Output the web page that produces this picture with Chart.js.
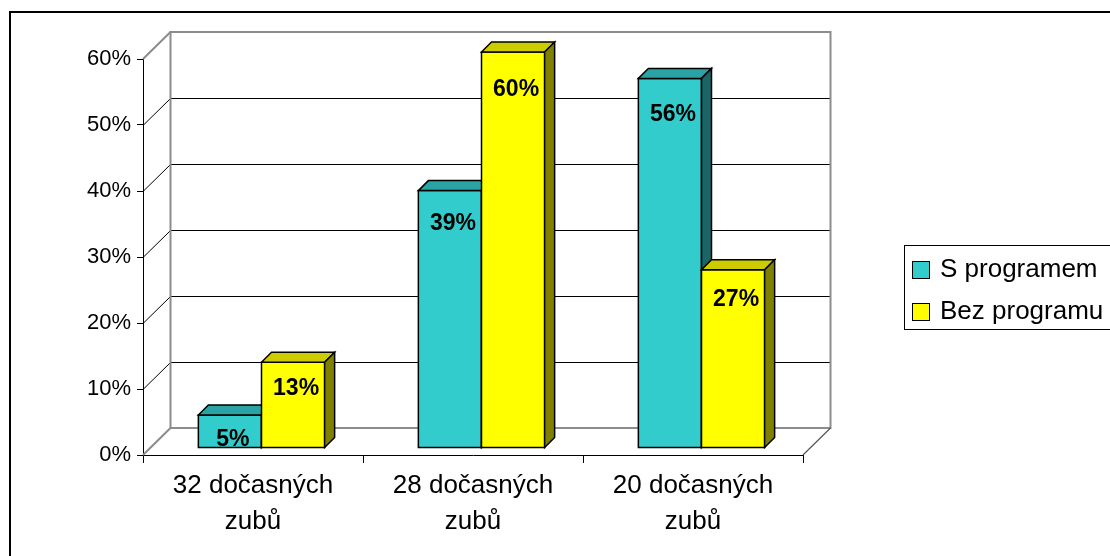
<!DOCTYPE html>
<html>
<head>
<meta charset="utf-8">
<script src="https://cdn.jsdelivr.net/npm/chart.js@4/dist/chart.umd.min.js"></script>
<style>
  body { margin: 0; background: #fff; }
  canvas { display: block; }
</style>
</head>
<body>
<canvas id="chart" width="1110" height="556"></canvas>
<script>
const categories = [["32 dočasných", "zubů"], ["28 dočasných", "zubů"], ["20 dočasných", "zubů"]];
const seriesNames = ["S programem", "Bez programu"];
const sProgramem = [5, 39, 56];
const bezProgramu = [13, 60, 27];
const yTicks = [0, 10, 20, 30, 40, 50, 60];

const FONT = "'Liberation Sans', Arial, sans-serif";

// front / top / side shades for each series
const palette = [
  { front: "#33CCCC", top: "#29A3A3", side: "#1A6666" },
  { front: "#FFFF00", top: "#CCCC00", side: "#808000" }
];

const WALL = { dx: 27.5, dy: -27 };     // depth of the plot box
const BAR_SHIFT = { dx: 8.5, dy: -7 };  // bars stand a bit inside the floor
const BAR_DEPTH = { dx: 10, dy: -10 };

function poly(ctx, pts, fill) {
  ctx.beginPath();
  ctx.moveTo(pts[0][0], pts[0][1]);
  for (let i = 1; i < pts.length; i++) ctx.lineTo(pts[i][0], pts[i][1]);
  ctx.closePath();
  ctx.fillStyle = fill;
  ctx.fill();
  ctx.stroke();
}

// walls, gridlines and the 3d boxes; the flat default bars are skipped
const box3d = {
  id: "box3d",
  beforeDatasetsDraw(chart) {
    const { ctx, chartArea: a, scales: { y } } = chart;
    const { dx, dy } = WALL;
    const top = y.getPixelForValue(yTicks[yTicks.length - 1]);
    const bottom = y.getPixelForValue(0);

    ctx.save();
    ctx.lineWidth = 1;
    ctx.strokeStyle = "#000";
    yTicks.slice(1, -1).forEach(v => {
      const py = Math.round(y.getPixelForValue(v)) + 0.5;
      ctx.beginPath();
      ctx.moveTo(a.left, py);
      ctx.lineTo(a.left + dx, py + dy);
      ctx.lineTo(a.right + dx, py + dy);
      ctx.stroke();
    });

    ctx.strokeStyle = "#8c8c8c";
    ctx.lineWidth = 2;
    ctx.strokeRect(a.left + dx, top + dy, a.right - a.left, bottom - top);
    ctx.beginPath();
    ctx.moveTo(a.left, top); ctx.lineTo(a.left + dx, top + dy);
    ctx.moveTo(a.left, bottom); ctx.lineTo(a.left + dx, bottom + dy);
    ctx.stroke();
    ctx.strokeStyle = "#555";
    ctx.lineWidth = 1.2;
    ctx.beginPath();
    ctx.moveTo(a.right, bottom); ctx.lineTo(a.right + dx, bottom + dy);
    ctx.stroke();

    // boxes, category by category so the right-hand bar covers its neighbour's side
    ctx.strokeStyle = "#000";
    ctx.lineWidth = 1.5;
    ctx.lineJoin = "miter";
    const labels = [];
    chart.data.labels.forEach((_, i) => {
      chart.data.datasets.forEach((ds, d) => {
        const el = chart.getDatasetMeta(d).data[i];
        const { x, y: vy, base, width } = el.getProps(["x", "y", "base", "width"], true);
        const l = x - width / 2 + BAR_SHIFT.dx, r = x + width / 2 + BAR_SHIFT.dx;
        const t = vy + BAR_SHIFT.dy, b = base + BAR_SHIFT.dy;
        const p = palette[d];
        const ox = BAR_DEPTH.dx, oy = BAR_DEPTH.dy;
        poly(ctx, [[l, t], [r, t], [r, b], [l, b]], p.front);
        poly(ctx, [[l, t], [l + ox, t + oy], [r + ox, t + oy], [r, t]], p.top);
        poly(ctx, [[r, t], [r + ox, t + oy], [r + ox, b + oy], [r, b]], p.side);
        labels.push({ x: (l + r) / 2 + 3, y: t + 30 + (b - t) * 0.035, text: ds.data[i] + "%" });
      });
    });

    ctx.fillStyle = "#000";
    ctx.font = "bold 23px " + FONT;
    ctx.textAlign = "center";
    ctx.textBaseline = "alphabetic";
    labels.forEach(lb => ctx.fillText(lb.text, lb.x, lb.y));
    ctx.restore();
    return false;
  }
};

const legendBox = {
  id: "legendBox",
  afterDraw(chart) {
    const { ctx } = chart;
    ctx.save();
    ctx.strokeStyle = "#000";
    ctx.lineWidth = 1;
    ctx.strokeRect(904.5, 245.5, 260, 84);
    ctx.font = "26px " + FONT;
    ctx.textBaseline = "alphabetic";
    chart.data.datasets.forEach((ds, i) => {
      const yy = 261 + i * 42;
      ctx.fillStyle = ds.backgroundColor;
      ctx.fillRect(912.5, yy + 0.5, 17, 17);
      ctx.strokeRect(912.5, yy + 0.5, 17, 17);
      ctx.fillStyle = "#000";
      ctx.fillText(ds.label, 940, yy + 16);
    });
    ctx.restore();
  }
};

const frame = {
  id: "frame",
  afterDraw(chart) {
    const { ctx } = chart;
    ctx.save();
    ctx.strokeStyle = "#000";
    ctx.lineWidth = 2;
    ctx.strokeRect(10, 12, 1200, 600);
    ctx.restore();
  }
};

new Chart(document.getElementById("chart"), {
  type: "bar",
  data: {
    labels: categories,
    datasets: [
      { label: seriesNames[0], data: sProgramem, backgroundColor: palette[0].front },
      { label: seriesNames[1], data: bezProgramu, backgroundColor: palette[1].front }
    ]
  },
  options: {
    responsive: false,
    animation: false,
    layout: { padding: { left: 0, top: 59, right: 307, bottom: 0 } },
    datasets: { bar: { categoryPercentage: 0.574, barPercentage: 1 } },
    plugins: { legend: { display: false }, tooltip: { enabled: false } },
    scales: {
      x: {
        grid: { offset: true, drawOnChartArea: false, tickLength: 8, color: "#000" },
        border: { color: "#000", width: 1 },
        ticks: {
          color: "#000", padding: 5, maxRotation: 0, autoSkip: false,
          font: { family: FONT, size: 26, lineHeight: 1.38 }
        },
        afterFit(s) { s.height = 101; }
      },
      y: {
        min: 0,
        max: 60,
        afterBuildTicks(s) { s.ticks = yTicks.map(v => ({ value: v })); },
        grid: { drawOnChartArea: false, tickLength: 6, color: "#000" },
        border: { color: "#000" },
        ticks: {
          color: "#000", padding: 6,
          font: { family: FONT, size: 22 },
          callback: v => v + "%"
        },
        afterFit(s) { s.width = 143; }
      }
    }
  },
  plugins: [box3d, legendBox, frame]
});
</script>
</body>
</html>
